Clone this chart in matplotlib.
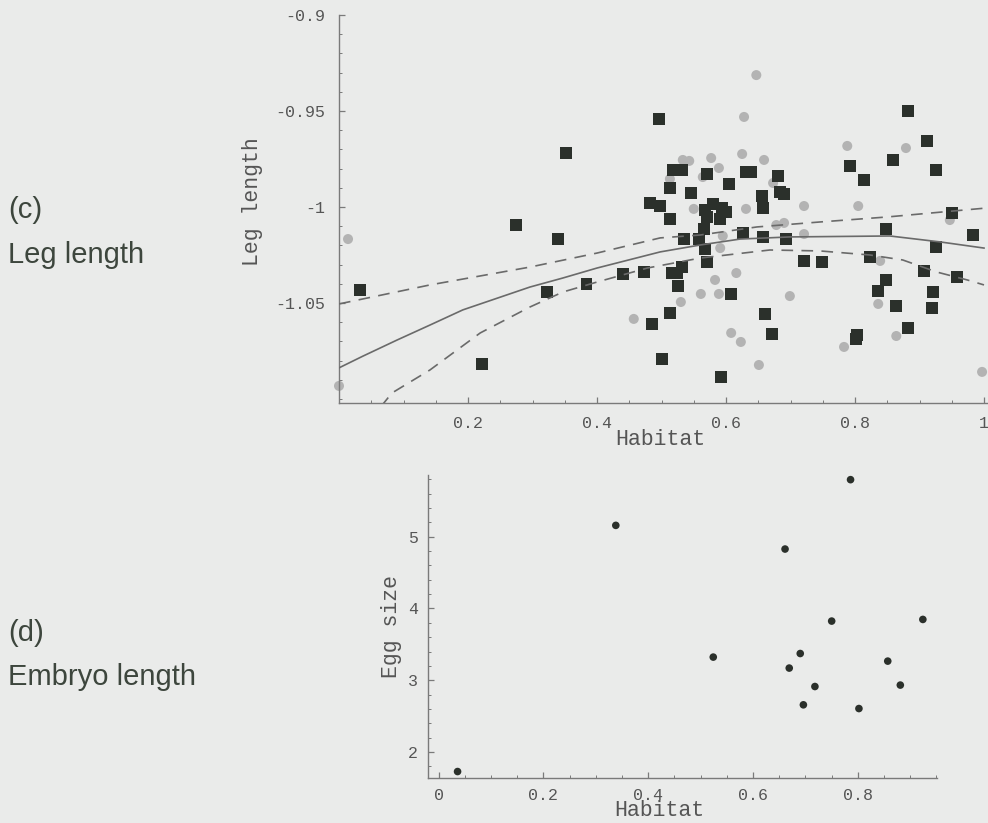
import numpy as np
import matplotlib.pyplot as plt
from matplotlib.ticker import FixedLocator, MultipleLocator

# (c) leg length vs habitat: dark squares and grey circles
sq_habitat = [0.033, 0.222, 0.274, 0.340, 0.322, 0.352, 0.384, 0.440, 0.473, 0.485,
              0.496, 0.482, 0.498, 0.513, 0.513, 0.518, 0.532, 0.546, 0.571, 0.535,
              0.558, 0.566, 0.567, 0.580, 0.567, 0.594, 0.600, 0.571, 0.591, 0.605,
              0.631, 0.639, 0.681, 0.656, 0.684, 0.690, 0.657, 0.626, 0.657, 0.693,
              0.571, 0.532, 0.516, 0.524, 0.526, 0.513, 0.501, 0.592, 0.608, 0.660,
              0.671, 0.721, 0.749, 0.792, 0.814, 0.859, 0.882, 0.912, 0.926, 0.848,
              0.950, 0.983, 0.926, 0.823, 0.907, 0.958, 0.848, 0.836, 0.921, 0.864,
              0.919, 0.882, 0.803, 0.802]
sq_leg = [-1.0432, -1.0818, -1.0094, -1.0167, -1.0443, -0.9719, -1.0401, -1.0349, -1.0339, -1.0609,
          -0.9542, -0.9979, -0.9995, -0.9901, -1.0063, -0.9807, -0.9807, -0.9927, -0.9828, -1.0167,
          -1.0167, -1.0115, -1.0219, -0.9984, -1.0016, -1.0005, -1.0026, -1.0052, -1.0063, -0.9880,
          -0.9818, -0.9818, -0.9839, -0.9943, -0.9922, -0.9932, -1.0005, -1.0135, -1.0156, -1.0167,
          -1.0286, -1.0313, -1.0344, -1.0344, -1.0411, -1.0552, -1.0792, -1.0885, -1.0453, -1.0557,
          -1.0661, -1.0281, -1.0286, -0.9786, -0.9859, -0.9755, -0.9500, -0.9656, -0.9807, -1.0115,
          -1.0031, -1.0146, -1.0208, -1.0260, -1.0333, -1.0365, -1.0380, -1.0438, -1.0443, -1.0516,
          -1.0526, -1.0630, -1.0667, -1.0688]

ci_habitat = [0.000, 0.014, 0.457, 0.533, 0.543, 0.577, 0.589, 0.564, 0.513, 0.550,
              0.595, 0.591, 0.583, 0.561, 0.589, 0.530, 0.608, 0.623, 0.651, 0.616,
              0.699, 0.647, 0.628, 0.625, 0.659, 0.673, 0.631, 0.721, 0.678, 0.690,
              0.721, 0.788, 0.879, 0.805, 0.947, 0.839, 0.836, 0.864, 0.783, 0.997]
ci_leg = [-1.0932, -1.0167, -1.0583, -0.9755, -0.9760, -0.9745, -0.9797, -0.9844, -0.9854, -1.0010,
          -1.0151, -1.0214, -1.0380, -1.0453, -1.0453, -1.0495, -1.0656, -1.0703, -1.0823, -1.0344,
          -1.0464, -0.9313, -0.9531, -0.9724, -0.9755, -0.9875, -1.0010, -0.9995, -1.0094, -1.0083,
          -1.0141, -0.9682, -0.9693, -0.9995, -1.0068, -1.0281, -1.0505, -1.0672, -1.0729, -1.0859]

# fitted curve and its confidence band
fit_x = [0.0, 0.037, 0.090, 0.141, 0.192, 0.296, 0.347, 0.400, 0.498, 0.560, 0.622, 0.699, 0.854, 0.932, 1.0]
fit_y = [-1.0838, -1.0777, -1.0693, -1.0615, -1.0536, -1.0417, -1.0370, -1.0318, -1.0234, -1.0198,
         -1.0167, -1.0156, -1.0151, -1.0182, -1.0214]
upper_x = [0.0, 0.141, 0.296, 0.400, 0.498, 0.560, 0.648, 0.746, 0.850, 0.952, 1.005]
upper_y = [-1.0505, -1.0406, -1.0313, -1.0240, -1.0161, -1.0146, -1.0104, -1.0078, -1.0052, -1.0021, -1.0005]
lower_x = [0.065, 0.082, 0.141, 0.219, 0.296, 0.347, 0.400, 0.478, 0.560, 0.668, 0.746, 0.823, 0.874, 0.927, 0.974, 1.0]
lower_y = [-1.1040, -1.0969, -1.0849, -1.0656, -1.0521, -1.0443, -1.0391, -1.0318, -1.0266, -1.0224,
           -1.0229, -1.0250, -1.0276, -1.0339, -1.0380, -1.0406]

# (d) egg size vs habitat
egg_habitat = [0.036, 0.338, 0.786, 0.661, 0.750, 0.924, 0.524, 0.690, 0.669, 0.857, 0.718, 0.881, 0.696, 0.802]
egg_size = [1.727, 5.158, 5.795, 4.828, 3.824, 3.847, 3.322, 3.372, 3.169, 3.266, 2.912, 2.932, 2.657, 2.605]

bg = '#eaebea'
axis_col = '#7a7a7a'
txt_col = '#555555'
mono = 'Liberation Mono'

fig = plt.figure(figsize=(9.88, 8.23), dpi=100, facecolor=bg)


def style_axes(ax):
    ax.set_facecolor('none')
    for s in ['top', 'right']:
        ax.spines[s].set_visible(False)
    for s in ['left', 'bottom']:
        ax.spines[s].set_color(axis_col)
        ax.spines[s].set_linewidth(1.0)
    ax.tick_params(which='both', direction='in', colors=axis_col, labelcolor=txt_col)
    ax.tick_params(which='major', length=4.5, width=0.9, labelsize=12)
    ax.tick_params(which='minor', length=2.5, width=0.7)
    for lab in ax.get_xticklabels() + ax.get_yticklabels():
        lab.set_family(mono)


# top panel
ax1 = fig.add_axes([339 / 988, 1 - 403 / 823, 649 / 988, 388 / 823])
ax1.scatter(ci_habitat, ci_leg, s=52, marker='o', color='#b3b3b3', edgecolors='none', clip_on=False, zorder=2)
ax1.scatter(sq_habitat, sq_leg, s=70, marker='s', color='#2b302b', edgecolors='none', clip_on=False, zorder=3)
ax1.plot(fit_x, fit_y, color='#6a6a6a', lw=1.2, zorder=4)
ax1.plot(upper_x, upper_y, color='#6a6a6a', lw=1.2, dashes=(7, 5), zorder=4)
ax1.plot(lower_x, lower_y, color='#6a6a6a', lw=1.2, dashes=(7, 5), zorder=4)
ax1.set_xlim(0, 1.0062)
ax1.set_ylim(-1.1021, -0.9)
ax1.xaxis.set_major_locator(FixedLocator([0.2, 0.4, 0.6, 0.8, 1.0]))
ax1.set_xticklabels(['0.2', '0.4', '0.6', '0.8', '1'])
ax1.xaxis.set_minor_locator(MultipleLocator(0.05))
ax1.yaxis.set_major_locator(FixedLocator([-1.05, -1.0, -0.95, -0.9]))
ax1.set_yticklabels(['-1.05', '-1', '-0.95', '-0.9'])
ax1.yaxis.set_minor_locator(MultipleLocator(0.01))
style_axes(ax1)
ax1.tick_params(axis='x', pad=9)
ax1.tick_params(axis='y', pad=10)
ax1.set_xlabel('Habitat', family=mono, fontsize=15.5, color=txt_col)
ax1.xaxis.set_label_coords(0.495, -0.068)
ax1.set_ylabel('Leg length', family=mono, fontsize=15.5, color=txt_col)
ax1.yaxis.set_label_coords(-0.117, 0.52)

# bottom panel
ax2 = fig.add_axes([427.7 / 988, 1 - 778 / 823, 509.3 / 988, 303 / 823])
ax2.scatter(egg_habitat, egg_size, s=30, marker='o', color='#2b302b', edgecolors='none', clip_on=False, zorder=3)
ax2.set_xlim(-0.021, 0.951)
ax2.set_ylim(1.637, 5.86)
ax2.xaxis.set_major_locator(FixedLocator([0, 0.2, 0.4, 0.6, 0.8]))
ax2.set_xticklabels(['0', '0.2', '0.4', '0.6', '0.8'])
ax2.xaxis.set_minor_locator(MultipleLocator(0.05))
ax2.yaxis.set_major_locator(FixedLocator([2, 3, 4, 5]))
ax2.set_yticklabels(['2', '3', '4', '5'])
ax2.yaxis.set_minor_locator(MultipleLocator(0.2))
style_axes(ax2)
ax2.tick_params(axis='x', pad=7)
ax2.tick_params(axis='y', pad=7)
ax2.set_xlabel('Habitat', family=mono, fontsize=15.5, color=txt_col)
ax2.xaxis.set_label_coords(0.454, -0.074)
ax2.set_ylabel('Egg size', family=mono, fontsize=15.5, color=txt_col)
ax2.yaxis.set_label_coords(-0.050, 0.5)

# panel titles on the left
side_col = '#3d463d'
fig.text(8 / 988, 1 - 210 / 823, '(c)', fontsize=21, color=side_col, family='Liberation Sans', va='center')
fig.text(8 / 988, 1 - 255 / 823, 'Leg length', fontsize=21, color=side_col, family='Liberation Sans', va='center')
fig.text(8 / 988, 1 - 633 / 823, '(d)', fontsize=21, color=side_col, family='Liberation Sans', va='center')
fig.text(8 / 988, 1 - 677 / 823, 'Embryo length', fontsize=21, color=side_col, family='Liberation Sans', va='center')

fig.savefig('out.png', dpi=100, facecolor=bg)
